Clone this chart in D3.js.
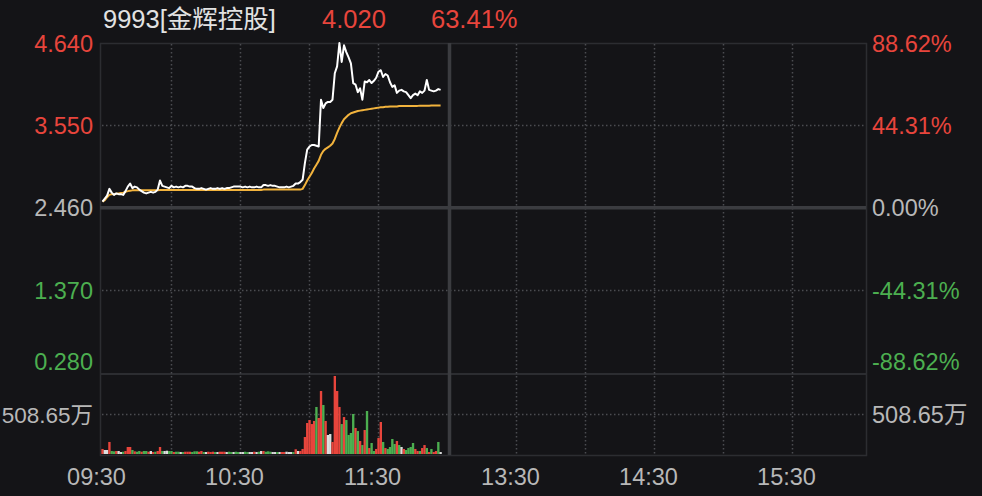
<!DOCTYPE html>
<html><head><meta charset="utf-8">
<script src="https://cdn.jsdelivr.net/npm/d3@7"></script>
<style>
html,body{margin:0;padding:0;background:#141417;}
svg{display:block;}
text{font-family:"Liberation Sans","Noto Sans CJK SC",Arial,sans-serif;}
</style></head>
<body>
<svg id="chart" width="982" height="496"></svg>
<script>
// ---------- data ----------
const stockTitle = "9993[金辉控股]";
const lastPrice = "4.020";
const lastChange = "63.41%";
const prevClose = 2.46;
const priceTicks = [4.640, 3.550, 2.460, 1.370, 0.280];
const pctTicks = ["88.62%", "44.31%", "0.00%", "-44.31%", "-88.62%"];
const volTickLabel = "508.65万";
const volMax = 1017.3; // 万
const timeLabels = ["09:30", "10:30", "11:30", "13:30", "14:30", "15:30"];
const timeLabelMinutes = [0, 60, 120, 180, 240, 300];
const gridMinutes = [30, 60, 90, 120, 180, 210, 240, 270, 300];
const sessionBreak = 150;
const totalMinutes = 330;

// price per minute from 09:30
const price = [
2.54,2.58,2.62,2.71,2.66,2.63,2.65,2.64,2.64,2.63,
2.68,2.74,2.78,2.72,2.74,2.73,2.70,2.68,2.66,2.65,
2.66,2.67,2.66,2.67,2.70,2.82,2.75,2.74,2.73,2.72,
2.75,2.73,2.74,2.73,2.74,2.73,2.75,2.75,2.74,2.74,
2.72,2.71,2.71,2.72,2.71,2.70,2.71,2.72,2.71,2.71,
2.72,2.71,2.72,2.71,2.72,2.72,2.73,2.74,2.74,2.74,
2.74,2.73,2.74,2.73,2.74,2.73,2.73,2.74,2.73,2.73,
2.76,2.76,2.75,2.76,2.75,2.75,2.74,2.73,2.73,2.73,
2.74,2.73,2.74,2.75,2.78,2.78,2.80,2.83,3.05,3.23,
3.27,3.29,3.29,3.28,3.27,3.89,3.78,3.84,3.86,3.86,
3.89,4.24,4.33,4.64,4.39,4.61,4.52,4.45,4.37,4.11,
4.09,3.99,4.04,3.89,4.13,4.12,4.15,4.11,4.14,4.18,
4.26,4.28,4.19,4.23,4.21,4.12,4.06,4.08,3.98,4.01,
4.02,4.00,3.99,3.95,3.91,3.95,3.97,3.95,4.00,3.98,
4.01,4.15,4.02,4.01,4.00,4.01,4.03,4.02
];
// average price per minute
const avgPrice = [
2.54,2.56,2.60,2.63,2.64,2.64,2.645,2.65,2.655,2.66,
2.67,2.68,2.685,2.69,2.69,2.69,2.69,2.69,2.69,2.69,
2.69,2.69,2.69,2.69,2.69,2.695,2.695,2.695,2.695,2.695,
2.695,2.695,2.695,2.695,2.695,2.695,2.695,2.695,2.695,2.695,
2.695,2.695,2.695,2.695,2.695,2.695,2.695,2.695,2.695,2.695,
2.695,2.695,2.695,2.695,2.695,2.695,2.695,2.695,2.695,2.695,
2.695,2.695,2.695,2.695,2.695,2.695,2.695,2.695,2.695,2.695,
2.70,2.70,2.70,2.70,2.70,2.70,2.70,2.70,2.70,2.70,
2.70,2.70,2.70,2.70,2.70,2.70,2.70,2.71,2.76,2.82,
2.87,2.92,2.98,3.03,3.08,3.16,3.21,3.24,3.26,3.28,
3.31,3.37,3.45,3.52,3.58,3.63,3.66,3.69,3.71,3.72,
3.73,3.74,3.745,3.75,3.755,3.76,3.765,3.77,3.775,3.78,
3.785,3.79,3.79,3.795,3.795,3.80,3.80,3.80,3.80,3.805,
3.805,3.805,3.805,3.805,3.808,3.808,3.808,3.808,3.81,3.81,
3.81,3.81,3.81,3.812,3.812,3.812,3.812,3.812
];
// volume per minute (万)
const volume = [
64,51,51,153,38,34,38,38,25,29,
38,89,89,51,34,29,38,29,38,38,
29,38,25,29,38,89,38,38,42,38,
38,25,29,29,25,25,29,29,29,25,
34,34,29,38,25,25,29,25,29,25,
25,29,29,29,25,29,25,25,29,25,
25,25,29,25,25,25,29,25,29,38,
38,29,34,29,25,25,25,25,25,25,
29,25,25,25,60,38,38,64,216,394,
432,381,420,598,458,801,623,420,242,254,
153,992,801,598,381,470,432,242,267,509,
331,292,165,114,305,547,76,140,38,64,
203,407,153,76,64,89,191,127,165,114,
89,64,51,76,89,140,64,38,38,76,
114,76,25,64,25,38,153,25
];
// bar colour codes: r = up, g = down, w = flat
const volDir = [
"r","w","w","r","g","g","r","w","w","g",
"r","r","r","g","r","g","g","r","g","g",
"r","w","r","g","r","r","g","w","w","g",
"g","r","g","g","w","g","r","r","r","g",
"g","g","r","r","g","w","r","r","r","g",
"w","r","r","r","w","g","g","w","g","g",
"w","w","g","g","w","w","r","w","g","w",
"r","g","g","g","w","w","g","w","r","r",
"w","w","w","g","r","w","r","r","r","r",
"r","r","r","g","r","r","g","r","w","w",
"r","r","r","r","g","r","g","g","g","g",
"r","g","r","g","r","g","r","g","g","r",
"r","r","g","r","g","g","g","g","r","g",
"w","r","g","g","g","g","r","r","g","r",
"r","g","r","g","r","r","g","w"
];

// ---------- layout ----------
const W = 982, H = 496;
const frameL = 100, frameR = 866, frameT = 43, volT = 374, volB = 455;
const C = {
  bg:"#141417", frame:"#2c2d31", thick:"#3b3c40", dot:"#4b4c51",
  text:"#b8b8b8", title:"#e2e2e2", red:"#e8453c", green:"#4caf50",
  white:"#ffffff", avg:"#f2b33d", flat:"#dddddd"
};

const svg = d3.select("#chart");
svg.append("rect").attr("width",W).attr("height",H).attr("fill",C.bg);

const x = d3.scaleLinear().domain([0,totalMinutes]).range([102.5,861.5]);
const y = d3.scaleLinear().domain([priceTicks[4],priceTicks[0]]).range([372.5,43]);
const yv = d3.scaleLinear().domain([0,volMax]).range([454,374]);

// frame
svg.append("rect").attr("x",frameL+0.5).attr("y",frameT+0.5)
  .attr("width",frameR-frameL).attr("height",volB-frameT)
  .attr("fill","none").attr("stroke",C.frame).attr("stroke-width",1.5);
svg.append("line").attr("x1",frameL).attr("x2",frameR).attr("y1",volT).attr("y2",volT)
  .attr("stroke",C.frame).attr("stroke-width",2);

// dotted grids
const g = svg.append("g");
[priceTicks[1],priceTicks[3]].forEach(p=>{
  g.append("line").attr("x1",frameL+2).attr("x2",frameR).attr("y1",Math.round(y(p))+0.5).attr("y2",Math.round(y(p))+0.5)
   .attr("stroke",C.dot).attr("stroke-width",1.5).attr("stroke-dasharray","1.5,2.5");
});
g.append("line").attr("x1",frameL+2).attr("x2",frameR).attr("y1",Math.round(yv(volMax/2))+0.5).attr("y2",Math.round(yv(volMax/2))+0.5)
  .attr("stroke",C.dot).attr("stroke-width",1.5).attr("stroke-dasharray","1.5,2.5");
gridMinutes.forEach(m=>{
  g.append("line").attr("x1",x(m)).attr("x2",x(m)).attr("y1",frameT+1).attr("y2",volB)
   .attr("stroke",C.dot).attr("stroke-width",1.5).attr("stroke-dasharray","1.5,2.5");
});
// zero line & session break
g.append("line").attr("x1",frameL).attr("x2",frameR).attr("y1",y(prevClose)).attr("y2",y(prevClose))
  .attr("stroke",C.thick).attr("stroke-width",3.5);
g.append("line").attr("x1",x(sessionBreak)+2).attr("x2",x(sessionBreak)+2).attr("y1",frameT).attr("y2",volB)
  .attr("stroke",C.thick).attr("stroke-width",3.5);

// volume bars
const colorOf = d => d==="r"?C.red:(d==="g"?C.green:C.flat);
svg.append("g").selectAll("rect").data(volume).join("rect")
  .attr("x",(d,i)=>x(i)-1.15).attr("width",2.35)
  .attr("y",d=>yv(d)).attr("height",d=>yv(0)-yv(d))
  .attr("fill",(d,i)=>colorOf(volDir[i]));

// lines
const line = d3.line().x((d,i)=>x(i)).y(d=>y(d));
svg.append("path").datum(avgPrice).attr("d",line).attr("fill","none")
  .attr("stroke",C.avg).attr("stroke-width",2).attr("stroke-linejoin","round");
svg.append("path").datum(price).attr("d",line).attr("fill","none")
  .attr("stroke",C.white).attr("stroke-width",2).attr("stroke-linejoin","round");

// title
const tfs = 25.5;
svg.append("text").attr("x",103).attr("y",27.5).attr("font-size",tfs).attr("fill",C.title).text(stockTitle);
svg.append("text").attr("x",322).attr("y",27.5).attr("font-size",tfs).attr("fill",C.red).text(lastPrice);
svg.append("text").attr("x",431).attr("y",27.5).attr("font-size",tfs).attr("fill",C.red).text(lastChange);

// price axis labels
const fs = 23.5;
const labelColor = p => p>prevClose?C.red:(p<prevClose?C.green:C.text);
const labelY = (p,i) => i===0 ? y(p)+9 : (i===4 ? y(p)-3 : y(p)+8.5);
priceTicks.forEach((p,i)=>{
  svg.append("text").attr("x",93).attr("y",labelY(p,i)).attr("text-anchor","end")
    .attr("font-size",fs).attr("fill",labelColor(p)).text(d3.format(".3f")(p));
  svg.append("text").attr("x",872).attr("y",labelY(p,i)).attr("text-anchor","start")
    .attr("font-size",fs).attr("fill",labelColor(p)).text(pctTicks[i]);
});
svg.append("text").attr("x",93).attr("y",yv(volMax/2)+8.5).attr("text-anchor","end")
  .attr("font-size",22.5).attr("fill",C.text).text(volTickLabel);
svg.append("text").attr("x",872).attr("y",yv(volMax/2)+8.5).attr("text-anchor","start")
  .attr("font-size",fs).attr("fill",C.text).text(volTickLabel);

// time labels
timeLabels.forEach((t,i)=>{
  svg.append("text").attr("x",x(timeLabelMinutes[i])-6).attr("y",484.5).attr("text-anchor","middle")
    .attr("font-size",fs).attr("fill",C.text).text(t);
});
</script>
</body></html>
